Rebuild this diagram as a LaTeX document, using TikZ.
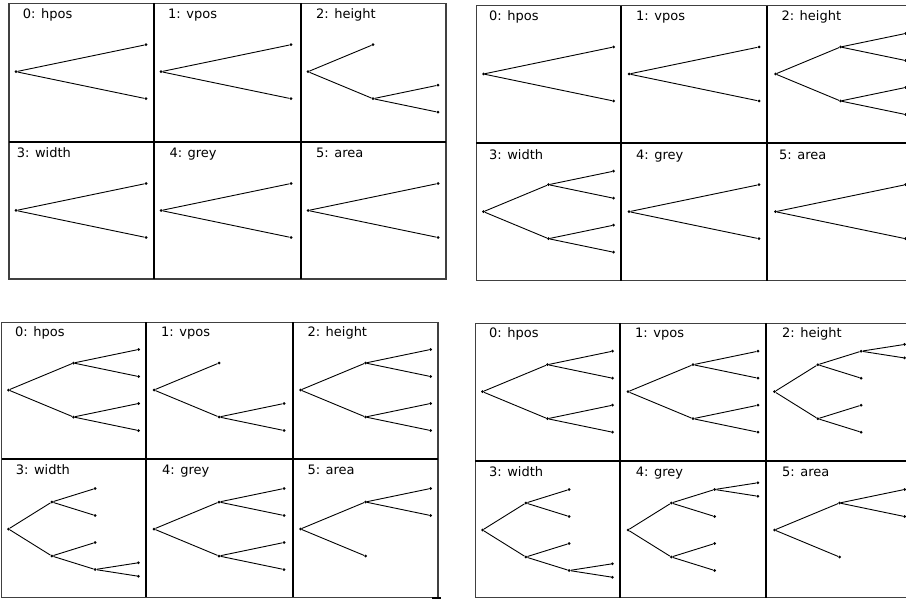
\documentclass[tikz,border=0pt]{standalone}
\usepackage{fontspec}
\setmainfont{DejaVu Sans}
\begin{document}
\begin{tikzpicture}[x=1pt,y=-1pt,
  vertex/.style={circle,fill=black,inner sep=0pt,minimum size=3pt},
  frame/.style={draw=black!75,line width=1.3pt},
  divider/.style={draw=black,line width=2.2pt},
  lbl/.style={anchor=base west,inner sep=0pt,font=\fontsize{13}{13}\selectfont},
  grow'=east,
  edge from parent/.style={draw,line width=0.9pt},
  level 1/.style={sibling distance=54pt},
  level 2/.style={sibling distance=27pt},
  level 3/.style={sibling distance=13.5pt}]
\clip (0,0) rectangle (906,599);
\fill[white] (0,0) rectangle (906,599);
% top left
\draw[frame] (9,3.3) rectangle (446,279);
\draw[divider] (154,3.3) -- (154,279);
\draw[divider] (301,3.3) -- (301,279);
\draw[divider] (9,141.7) -- (446,141.7);
\node[lbl] (a0) at (22.7,19) {0: hpos};
\node[lbl] (a1) at (168,19) {1: vpos};
\node[lbl] (a2) at (316,19) {2: height};
\node[lbl] (a3) at (16.7,157.4) {3: width};
\node[lbl] (a4) at (169.3,157.4) {4: grey};
\node[lbl] (a5) at (316,157.4) {5: area};
\node[vertex] (ta0) at (16,71.7) {} [level distance=130pt] child {node[vertex] {}} child {node[vertex] {}};
\node[vertex] (ta1) at (161,71.7) {} [level distance=130pt] child {node[vertex] {}} child {node[vertex] {}};
\node[vertex] (ta2) at (308,71.7) {} [level distance=65pt] child {node[vertex] {}}
  child {node[vertex] {} child {node[vertex] {}} child {node[vertex] {}}};
\node[vertex] (ta3) at (16,210.5) {} [level distance=130pt] child {node[vertex] {}} child {node[vertex] {}};
\node[vertex] (ta4) at (161,210.5) {} [level distance=130pt] child {node[vertex] {}} child {node[vertex] {}};
\node[vertex] (ta5) at (308,210.5) {} [level distance=130pt] child {node[vertex] {}} child {node[vertex] {}};
% top right
\draw[frame] (476.3,5.7) rectangle (913,280.5);
\draw[divider] (621.3,5.7) -- (621.3,280.5);
\draw[divider] (767.3,5.7) -- (767.3,280.5);
\draw[divider] (476.3,142.7) -- (913,142.7);
\node[lbl] (b0) at (489,20.3) {0: hpos};
\node[lbl] (b1) at (636,20.3) {1: vpos};
\node[lbl] (b2) at (781.3,20.3) {2: height};
\node[lbl] (b3) at (489,159.3) {3: width};
\node[lbl] (b4) at (636,159.3) {4: grey};
\node[lbl] (b5) at (779,159.3) {5: area};
\node[vertex] (tb0) at (483.5,74) {} [level distance=130pt] child {node[vertex] {}} child {node[vertex] {}};
\node[vertex] (tb1) at (629,74) {} [level distance=130pt] child {node[vertex] {}} child {node[vertex] {}};
\node[vertex] (tb2) at (775.5,74) {} [level distance=65pt]
  child {node[vertex] {} child {node[vertex] {}} child {node[vertex] {}}}
  child {node[vertex] {} child {node[vertex] {}} child {node[vertex] {}}};
\node[vertex] (tb3) at (483.5,211.7) {} [level distance=65pt]
  child {node[vertex] {} child {node[vertex] {}} child {node[vertex] {}}}
  child {node[vertex] {} child {node[vertex] {}} child {node[vertex] {}}};
\node[vertex] (tb4) at (629,211.7) {} [level distance=130pt] child {node[vertex] {}} child {node[vertex] {}};
\node[vertex] (tb5) at (775.5,211.7) {} [level distance=130pt] child {node[vertex] {}} child {node[vertex] {}};
% bottom left
\draw[frame] (1.7,322.3) rectangle (438,597.3);
\draw[divider] (146,322.3) -- (146,597.3);
\draw[divider] (292.7,322.3) -- (292.7,597.3);
\draw[divider] (1.7,459.3) -- (438,459.3);
\fill (432,597) rectangle (440.5,599);
\node[lbl] (c0) at (15,336) {0: hpos};
\node[lbl] (c1) at (161,336) {1: vpos};
\node[lbl] (c2) at (307.3,336) {2: height};
\node[lbl] (c3) at (15.7,474.3) {3: width};
\node[lbl] (c4) at (162,474.3) {4: grey};
\node[lbl] (c5) at (307.3,474.3) {5: area};
\node[vertex] (tc0) at (8.5,390) {} [level distance=65pt]
  child {node[vertex] {} child {node[vertex] {}} child {node[vertex] {}}}
  child {node[vertex] {} child {node[vertex] {}} child {node[vertex] {}}};
\node[vertex] (tc1) at (154,390) {} [level distance=65pt] child {node[vertex] {}}
  child {node[vertex] {} child {node[vertex] {}} child {node[vertex] {}}};
\node[vertex] (tc2) at (300.5,390) {} [level distance=65pt]
  child {node[vertex] {} child {node[vertex] {}} child {node[vertex] {}}}
  child {node[vertex] {} child {node[vertex] {}} child {node[vertex] {}}};
\node[vertex] (tc3) at (8.5,529) {} [level distance=43.33pt]
  child {node[vertex] {} child {node[vertex] {}} child {node[vertex] {}}}
  child {node[vertex] {} child {node[vertex] {}}
    child {node[vertex] {} child {node[vertex] {}} child {node[vertex] {}}}};
\node[vertex] (tc4) at (154,529) {} [level distance=65pt]
  child {node[vertex] {} child {node[vertex] {}} child {node[vertex] {}}}
  child {node[vertex] {} child {node[vertex] {}} child {node[vertex] {}}};
\node[vertex] (tc5) at (300.5,529) {} [level distance=65pt]
  child {node[vertex] {} child {node[vertex] {}} child {node[vertex] {}}}
  child {node[vertex] {}};
% bottom right
\draw[frame] (475.3,323.3) rectangle (913,597.7);
\draw[divider] (620.3,323.3) -- (620.3,597.7);
\draw[divider] (766.3,323.3) -- (766.3,597.7);
\draw[divider] (475.3,461) -- (913,461);
\node[lbl] (d0) at (489,337.3) {0: hpos};
\node[lbl] (d1) at (635,337.3) {1: vpos};
\node[lbl] (d2) at (782,337.3) {2: height};
\node[lbl] (d3) at (489,476) {3: width};
\node[lbl] (d4) at (635.7,476) {4: grey};
\node[lbl] (d5) at (782,476) {5: area};
\node[vertex] (td0) at (482.5,391.7) {} [level distance=65pt]
  child {node[vertex] {} child {node[vertex] {}} child {node[vertex] {}}}
  child {node[vertex] {} child {node[vertex] {}} child {node[vertex] {}}};
\node[vertex] (td1) at (628,391.7) {} [level distance=65pt]
  child {node[vertex] {} child {node[vertex] {}} child {node[vertex] {}}}
  child {node[vertex] {} child {node[vertex] {}} child {node[vertex] {}}};
\node[vertex] (td2) at (774.5,391.7) {} [level distance=43.33pt]
  child {node[vertex] {}
    child {node[vertex] {} child {node[vertex] {}} child {node[vertex] {}}}
    child {node[vertex] {}}}
  child {node[vertex] {} child {node[vertex] {}} child {node[vertex] {}}};
\node[vertex] (td3) at (482.5,530) {} [level distance=43.33pt]
  child {node[vertex] {} child {node[vertex] {}} child {node[vertex] {}}}
  child {node[vertex] {} child {node[vertex] {}}
    child {node[vertex] {} child {node[vertex] {}} child {node[vertex] {}}}};
\node[vertex] (td4) at (628,530) {} [level distance=43.33pt]
  child {node[vertex] {}
    child {node[vertex] {} child {node[vertex] {}} child {node[vertex] {}}}
    child {node[vertex] {}}}
  child {node[vertex] {} child {node[vertex] {}} child {node[vertex] {}}};
\node[vertex] (td5) at (774.5,530) {} [level distance=65pt]
  child {node[vertex] {} child {node[vertex] {}} child {node[vertex] {}}}
  child {node[vertex] {}};
\end{tikzpicture}
\end{document}
